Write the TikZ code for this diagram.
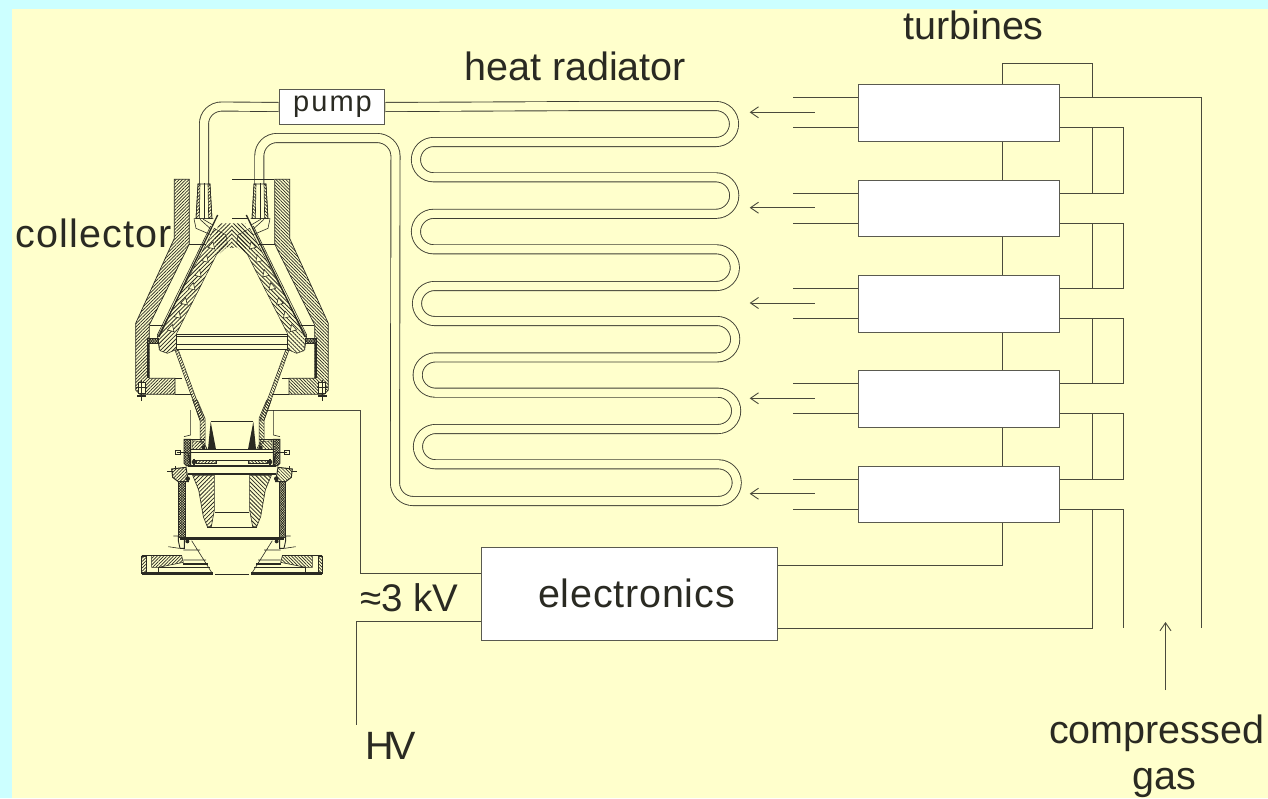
\documentclass[tikz,border=0pt]{standalone}
\usepackage{fontspec}
\setmainfont{Liberation Sans}
\usetikzlibrary{calc,arrows.meta,patterns.meta}
\definecolor{bgcyan}{HTML}{CCFFFF}
\definecolor{bgyellow}{HTML}{FFFFCC}
\definecolor{ink}{HTML}{2A2A22}
\definecolor{edge}{HTML}{5A5A50}
\def\hang{45}
\tikzset{
  wire/.style={draw=ink!85!bgyellow,line width=.9pt},
  thin part/.style={draw=ink,line width=.6pt},
  thick part/.style={draw=ink,line width=1.3pt},
  heavy part/.style={draw=ink,line width=2.2pt},
  pipe/.style={draw=ink!90!bgyellow,line width=.9pt,double=bgyellow,double distance=8.2pt},
  gasarrow/.style={wire,-{Straight Barb[length=8pt,width=11pt]}},
  hatch/.style={pattern={Lines[angle=\hang,distance=2.3pt,line width=.7pt]},pattern color=ink},
  hatchw/.style={pattern={Lines[angle=\hang,distance=2.9pt,line width=.8pt]},pattern color=ink},
  mesh/.style={pattern={Hatch[angle=45,distance=1.8pt,line width=.7pt]},pattern color=ink},
  tbox/.style={draw=edge,fill=white,line width=1pt,minimum width=201.3pt,minimum height=56.5pt,inner sep=0pt,anchor=north west},
  label/.style={anchor=base west,inner sep=0pt,text=ink,font=\fontsize{39.5}{42}\selectfont},
}
% right and left bends of the radiator
\def\rb#1#2#3{-- (#1,#2) .. controls ({#1+.276*(#3-#2)},#2) and ({#1+.5*(#3-#2)},{#2+.224*(#3-#2)}) .. ({#1+.5*(#3-#2)},{(#2+#3)/2}) .. controls ({#1+.5*(#3-#2)},{#3-.224*(#3-#2)}) and ({#1+.276*(#3-#2)},#3) .. (#1,#3)}
\def\lb#1#2#3{-- (#1,#2) .. controls ({#1-.276*(#3-#2)},#2) and ({#1-.5*(#3-#2)},{#2+.224*(#3-#2)}) .. ({#1-.5*(#3-#2)},{(#2+#3)/2}) .. controls ({#1-.5*(#3-#2)},{#3-.224*(#3-#2)}) and ({#1-.276*(#3-#2)},#3) .. (#1,#3)}
% one half of the collector (reference zoom units, 3 per pixel)
\newcommand\upperhalf{%
  \path[hatch,draw=ink,line width=.7pt] (163,58)--(208,58)--(208,252)--(88,495)--(88,655)--(165,655)--(165,703)--(60,703)--(47,690)--(47,490)--(163,235)--cycle;
  \draw[thin part] (208,252)--(258,252) (90,495)--(130,495) (165,655)--(187,655) (165,703)--(215,703);
  % cone ribbon
  \path[hatchw,draw=ink,line width=.5pt] (283,205)--(113,530)--(120,572)--(142,580)--(170,568)--(170,520)--(290,283)--(322,250)--(318,225)--cycle;
  \path[hatchw] (296,190)--(336,190)--(336,264)--(320,262)--(300,280)--(283,240)--cycle;
  \foreach \x/\y in {264/262,245/302,224/346,205/385,182/430,162/470,142/510}{
    \path[fill=bgyellow,draw=ink,line width=.6pt] (\x,\y)--(\x+15,\y-17)--(\x+20,\y+5)--cycle;
  }
  \draw[thick part] (293,165)--(117,530);
  \draw[thin part] (272,198)--(112,525)--(118,570);
  % flange
  \path[mesh,draw=ink,line width=.6pt] (82,535)--(116,535)--(116,551)--(82,551)--cycle;
  \draw[heavy part] (85,551)--(85,655);
  % bolt
  \path[fill=bgyellow,draw=ink,line width=1pt] (55,668)--(76,668)--(76,700)--(55,700)--cycle;
  \draw[thick part] (47,682)--(80,682) (65,660)--(65,722) (52,708)--(78,708);
  % lower cone wall
  \path[hatch,draw=ink,line width=.5pt] (165,570)--(175,570)--(252,780)--(240,780)--cycle;
  % nozzle
  \path[fill=bgyellow,draw=ink,line width=.6pt] (234,72)--(270,72)--(276,176)--(228,176)--cycle;
  \path[hatch,draw=ink,line width=.6pt] (234,72)--(240,72)--(238,176)--(228,176)--cycle;
  \path[hatch,draw=ink,line width=.6pt] (270,72)--(264,72)--(266,176)--(276,176)--cycle;
  \draw[thin part] (252,70)--(252,176);
  \draw[thin part] (222,176)--(280,176) (222,176)--(228,205)--(272,224) (250,178)--(280,196) (240,178)--(270,205);
}
\newcommand\lowerhalf{%
  \path[hatch,draw=ink,line width=.5pt] (218,0)--(232,0)--(255,55)--(255,138)--(240,125)--(240,62)--cycle;
  \draw[thin part] (212,30)--(212,105)--(192,110);
  \path[fill=ink] (272,65)--(288,148)--(264,148)--cycle;
  \draw[thick part] (192,118)--(255,118);
  \path[mesh,draw=ink,line width=.9pt] (192,118)--(212,118)--(212,195)--(200,198)--(192,190)--cycle;
  \path[hatch,draw=ink,line width=.5pt] (216,122)--(250,125)--(262,148)--(216,148)--cycle;
  \draw[thin part] (170,157)--(205,157) (165,152)--(180,152)--(180,163)--(165,163)--cycle;
  \path[fill=ink] (250,142) circle[radius=6];
  \path[hatch,draw=ink,line width=.5pt] (230,180)--(288,180)--(288,190)--(230,190)--cycle;
  \draw[heavy part] (222,176)--(222,194);
  \path[fill=ink] (222,186) circle[radius=7];
  \draw[thick part] (212,198)--(205,160);
  \path[hatch,draw=ink,line width=1pt] (155,207)--(198,202)--(205,245)--(175,245)--(158,232)--cycle;
  \draw[thin part] (142,215)--(160,215) (165,198)--(165,210);
  \path[fill=ink] (203,236) circle[radius=7];
  \path[mesh,draw=ink,line width=1pt] (175,245)--(195,245)--(195,412)--(175,412)--cycle;
  \path[hatchw,draw=ink,line width=.6pt] (218,226)--(283,226)--(283,330)--(274,380)--(262,380)--(250,350)--(236,270)--cycle;
  \path[draw=ink,line width=.9pt,fill=bgyellow] (160,408)--(175,408)--(175,422)--(180,445)--(193,445)--(193,420);
  \draw[thin part] (145,440)--(178,445);
  \path[fill=ink] (202,424) circle[radius=6];
  \draw[thin part] (215,422)--(278,522) (190,450)--(240,450) (190,480)--(258,480);
  \path[hatch,draw=ink,line width=.6pt] (95,467)--(185,467)--(190,487)--(115,502)--(95,502)--cycle;
  \path[hatch,draw=ink,line width=.6pt] (65,470)--(78,470)--(78,520)--(65,520)--cycle;
  \draw[thin part] (65,467)--(185,467) (65,467)--(65,522) (115,502)--(115,515);
  \draw[heavy part] (188,491)--(263,491);
  \draw[thin part] (115,502)--(270,502);
  \draw[line width=2.4pt,draw=ink] (65,521)--(278,521);
}
\begin{document}
\begin{tikzpicture}[x=1pt,y=-1pt]
\useasboundingbox (0,0) rectangle (1268,798);
\fill[bgcyan] (0,0) rectangle (1268,798);
\fill[bgyellow] (12,9) rectangle (1268,798);

% boxes
\node[tbox,minimum width=105.6pt,minimum height=35pt] (pump) at (278.7,89) {};
\foreach \i/\y in {1/84.3,2/179.7,3/275,4/370.3,5/465.7}{
  \node[tbox] (t\i) at (857.7,\y) {};
  \coordinate (wa\i) at ($(t\i.north west)+(0,13.4)$);
  \coordinate (wb\i) at ($(t\i.north west)+(0,43.4)$);
  \coordinate (ea\i) at ($(t\i.north east)+(0,13.4)$);
  \coordinate (eb\i) at ($(t\i.north east)+(0,43.4)$);
  \coordinate (fa\i) at ($(wa\i)+(-64.5,0)$);
  \coordinate (fb\i) at ($(wb\i)+(-64.5,0)$);
}
\node[tbox,minimum width=296pt,minimum height=92.4pt] (elec) at (481,547.3) {};

% coolant pipes
\coordinate (nozL) at (204,184);
\coordinate (nozR) at (259.3,184);
\draw[pipe] (pump.west) -- (222,106.5) .. controls (212,106.5) and (204,114) .. (204,124) -- (nozL);
\draw[pipe] (pump.east) -- (600,106)
  \rb{716}{106}{142}
  \lb{433.6}{142}{177.3}
  \rb{716}{177.3}{213.8}
  \lb{433.7}{213.8}{249.3}
  \rb{716.5}{249.3}{286}
  \lb{434.5}{286}{321}
  \rb{717}{321}{357.4}
  \lb{435.3}{357.4}{392.7}
  \rb{718}{392.7}{429}
  \lb{435.6}{429}{464.3}
  \rb{718.4}{464.3}{501}
  -- (413,501) .. controls (403,501) and (395,493) .. (395,483)
  -- (395.5,156) .. controls (395.5,146) and (387,138) .. (377,138)
  -- (277,138) .. controls (267,138) and (259.3,146) .. (259.3,156) -- (nozR);

% turbine stubs and arrows
\foreach \i in {1,...,5}{
  \draw[wire] (fa\i) -- (wa\i);
  \draw[wire] (fb\i) -- (wb\i);
  \coordinate (ms\i) at ($(t\i.north west)+(-43,28)$);
  \coordinate (me\i) at ($(t\i.north west)+(-108,28)$);
  \draw[gasarrow] (ms\i) -- (me\i);
}
% turbine supply lines
\coordinate (busA) at (1002,63.7);
\coordinate (busB) at (1092,63.7);
\coordinate (gasend) at (1201.4,628);
\coordinate (gasmid) at (1123.8,628);
\draw[wire] (t1.north -| busA) -- (busA) -- (busB) -- (ea1 -| busB);
\draw[wire] (ea1) -- (ea1 -| gasend) -- (gasend);
\foreach \a/\b in {1/2,2/3,3/4,4/5}{
  \draw[wire] (t\a.south -| busA) -- (t\b.north -| busA);
  \draw[wire] (eb\a) -- (eb\a -| gasmid) -- (ea\b -| gasmid) -- (ea\b);
  \draw[wire] (eb\a -| busB) -- (ea\b -| busB);
}
\draw[wire] (eb5) -- (eb5 -| gasmid) -- (gasmid);
\coordinate (elecA) at ($(elec.north east)+(0,18.4)$);
\coordinate (elecB) at ($(elec.north east)+(0,81.4)$);
\draw[wire] (t5.south -| busA) -- (elecA -| busA) -- (elecA);
\draw[wire] (eb5 -| busB) -- (elecB -| busB) -- (elecB);
% electronics to collector and HV
\coordinate (collwire) at (267,410);
\coordinate (elecC) at ($(elec.north west)+(0,26.4)$);
\coordinate (elecD) at ($(elec.north west)+(0,73.7)$);
\coordinate (hvend) at (356.7,725);
\draw[wire] (collwire) -- (360,410) -- (elecC -| 360,0) -- (elecC);
\draw[wire] (elecD) -- (elecD -| hvend) -- (hvend);
% gas arrow
\coordinate (gasS) at (1165.5,690);
\coordinate (gasE) at (1165.5,622);
\draw[gasarrow] (gasS) -- (gasE);

% collector, upper part
\begin{scope}[shift={(120,160)},xscale=1/3,yscale=1/3]
  \upperhalf
  \begin{scope}[shift={(672,0)},xscale=-1]\def\hang{135}\upperhalf\end{scope}
  \draw[thin part] (337,58)--(463,58) (337,175)--(385,175);
  \draw[thin part] (170,522)--(502,522) (170,530)--(502,530) (170,552)--(502,552) (170,522)--(170,568) (502,522)--(502,568);
  \draw[thick part] (170,568)--(502,568);
\end{scope}
% collector, lower part
\begin{scope}[shift={(120,400)},xscale=1/3,yscale=1/3]
  \lowerhalf
  \begin{scope}[shift={(672,0)},xscale=-1]\def\hang{135}\lowerhalf\end{scope}
  \draw[thick part] (272,65)--(400,65);
  \draw[thick part] (212,149)--(460,149);
  \draw[thin part] (212,156)--(460,156) (222,180)--(450,180);
  \draw[thick part] (205,198)--(467,198) (205,222)--(467,222);
  \draw[thin part] (285,338)--(387,338) (262,382)--(410,382);
  \draw[line width=1.8pt,draw=ink] (180,414)--(492,414);
  \draw[thin part] (180,419)--(492,419);
  \draw[thin part] (285,523)--(387,523);
\end{scope}

% texts
\node[label] (lbturb) at (903,39) {turbines};
\node[label] (lbheat) at (464,80) {heat radiator};
\node[label] (lbcoll) at (15,247) {\addfontfeature{LetterSpace=3}collector};
\node[label] (lbelec) at (538,607) {\addfontfeature{LetterSpace=2}electronics};
\node[label,font=\fontsize{38.5}{42}\selectfont] (lbkv) at (360,611) {≈3 kV};
\node[label] (lbhv) at (365,759) {\addfontfeature{LetterSpace=-11}HV};
\node[label] (lbcomp) at (1049,743) {compressed};
\node[label] (lbgas) at (1132,789) {gas};
\node[label,font=\fontsize{29}{31}\selectfont] (lbpump) at (293,111.5) {\addfontfeature{LetterSpace=7}pump};
\end{tikzpicture}
\end{document}
